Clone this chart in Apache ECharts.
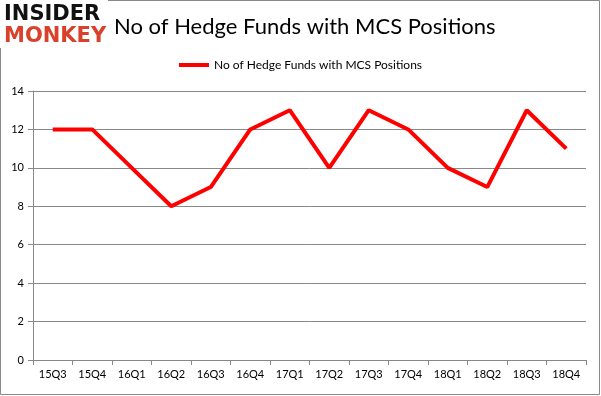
<!DOCTYPE html>
<html><head><meta charset="utf-8">
<script src="https://cdn.jsdelivr.net/npm/echarts@6/dist/echarts.min.js"></script>
<style>html,body{margin:0;padding:0;background:#fff}#c{width:601px;height:396px}</style>
</head><body><div id="c"></div>
<script>
const categories = ['15Q3','15Q4','16Q1','16Q2','16Q3','16Q4','17Q1','17Q2','17Q3','17Q4','18Q1','18Q2','18Q3','18Q4'];
const values = [12,12,10,8,9,12,13,10,13,12,10,9,13,11];
const seriesName = 'No of Hedge Funds with MCS Positions';
const yTicks = {min:0, max:14, interval:2};

const chart = echarts.init(document.getElementById('c'), null, {renderer:'canvas'});
chart.setOption({
  animation:false,
  backgroundColor:'#fff',
  title:{text:'No of Hedge Funds with MCS Positions', left:109, top:11,
    textStyle:{fontFamily:'Lato', fontSize:22, fontWeight:'normal', color:'#000'}},
  legend:{data:[seriesName], top:54, left:'center', itemWidth:30, itemHeight:4, itemGap:4,
    icon:'rect',
    textStyle:{fontFamily:'Lato', fontSize:12, color:'#000'}},
  graphic:[
    {type:'rect', shape:{x:0.5,y:0.5,width:599,height:394}, style:{fill:'none', stroke:'#898989', lineWidth:1}},
    {type:'rect', shape:{x:0,y:0,width:108,height:48}, style:{fill:'#fff'}},
    {type:'text', left:4, top:4, style:{text:'INSIDER', fontFamily:'DejaVu Sans', fontWeight:'bold', fontSize:21, fill:'#111'}},
    {type:'text', left:4, top:26, style:{text:'MONKEY', fontFamily:'DejaVu Sans', fontWeight:'bold', fontSize:21, fill:'#d9412a'}}
  ],
  grid:{left:33, right:15, top:91, bottom:36, containLabel:false},
  xAxis:{type:'category', data:categories, boundaryGap:true,
    axisLine:{lineStyle:{color:'#888', width:1}},
    axisTick:{show:true, length:5, lineStyle:{color:'#888'}},
    axisLabel:{color:'#000', fontFamily:'Lato', fontSize:11, margin:9}},
  yAxis:{type:'value', min:yTicks.min, max:yTicks.max, interval:yTicks.interval,
    axisLine:{show:true, lineStyle:{color:'#888'}},
    axisTick:{show:true, length:5, inside:false, lineStyle:{color:'#888'}},
    splitLine:{lineStyle:{color:'#888', width:1}},
    axisLabel:{color:'#000', fontFamily:'Lato', fontSize:11, margin:9}},
  series:[{name:seriesName, type:'line', data:values, symbol:'none',
    lineStyle:{color:'#ff0000', width:4}, itemStyle:{color:'#ff0000'}}]
});
</script></body></html>
